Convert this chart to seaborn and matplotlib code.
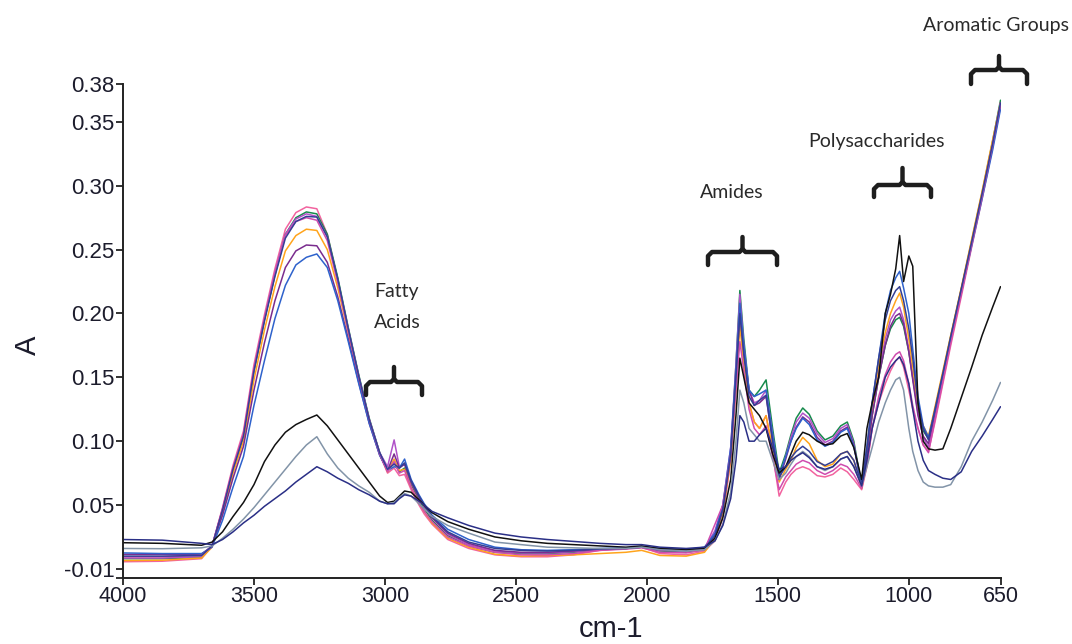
import numpy as np
import pandas as pd
import matplotlib
matplotlib.use("Agg")
import matplotlib.pyplot as plt
from matplotlib.lines import Line2D
import seaborn as sns

# ---------------- data ----------------
wavenumber = [4000, 3850, 3700, 3660, 3620, 3580, 3540, 3500, 3460, 3420,
              3380, 3340, 3300, 3260, 3220, 3180, 3140, 3100, 3060, 3020,
              2990, 2965, 2945, 2925, 2900, 2870, 2850, 2820, 2760, 2680,
              2580, 2480, 2380, 2280, 2180, 2080, 2020, 1950, 1850, 1780,
              1740, 1710, 1680, 1660, 1645, 1630, 1610, 1590, 1570, 1545,
              1520, 1495, 1470, 1450, 1430, 1405, 1380, 1350, 1320, 1290,
              1260, 1235, 1210, 1180, 1160, 1140, 1115, 1090, 1070, 1050,
              1035, 1020, 1000, 985, 965, 945, 925, 900, 870, 840,
              800, 760, 720, 680, 650]

pink = [0.0056, 0.006, 0.008, 0.018, 0.048, 0.081, 0.108, 0.160, 0.199, 0.235,
        0.266, 0.279, 0.2834, 0.282, 0.262, 0.226, 0.186, 0.150, 0.116, 0.090,
        0.075, 0.079, 0.073, 0.074, 0.062, 0.050, 0.043, 0.035, 0.023, 0.016,
        0.011, 0.0095, 0.0095, 0.011, 0.0145, 0.016, 0.017, 0.012, 0.011, 0.014,
        0.022, 0.040, 0.085, 0.150, 0.205, 0.170, 0.130, 0.115, 0.110, 0.120,
        0.090, 0.057, 0.068, 0.074, 0.078, 0.080, 0.078, 0.073, 0.072, 0.074,
        0.079, 0.076, 0.070, 0.062, 0.080, 0.110, 0.130, 0.145, 0.155, 0.163,
        0.166, 0.158, 0.140, 0.125, 0.110, 0.097, 0.092, 0.115, 0.145, 0.175,
        0.213, 0.252, 0.290, 0.330, 0.362]

green = [0.008, 0.008, 0.009, 0.018, 0.046, 0.078, 0.104, 0.155, 0.195, 0.230,
         0.262, 0.275, 0.2795, 0.278, 0.262, 0.228, 0.189, 0.152, 0.118, 0.091,
         0.077, 0.083, 0.076, 0.079, 0.066, 0.054, 0.047, 0.038, 0.026, 0.018,
         0.013, 0.012, 0.012, 0.013, 0.015, 0.016, 0.017, 0.014, 0.013, 0.015,
         0.024, 0.045, 0.090, 0.160, 0.218, 0.180, 0.140, 0.135, 0.140, 0.148,
         0.110, 0.075, 0.090, 0.105, 0.118, 0.126, 0.121, 0.108, 0.101, 0.104,
         0.112, 0.115, 0.100, 0.065, 0.090, 0.120, 0.150, 0.175, 0.188, 0.195,
         0.197, 0.190, 0.170, 0.150, 0.125, 0.108, 0.102, 0.125, 0.153, 0.182,
         0.219, 0.257, 0.295, 0.335, 0.367]

violet = [0.0085, 0.0085, 0.0095, 0.018, 0.047, 0.079, 0.105, 0.156, 0.196, 0.232,
          0.262, 0.274, 0.278, 0.276, 0.260, 0.226, 0.188, 0.151, 0.117, 0.091,
          0.080, 0.101, 0.080, 0.082, 0.068, 0.056, 0.049, 0.040, 0.027, 0.019,
          0.014, 0.0125, 0.0125, 0.0135, 0.015, 0.016, 0.017, 0.0145, 0.014, 0.016,
          0.030, 0.050, 0.095, 0.160, 0.215, 0.175, 0.140, 0.130, 0.132, 0.140,
          0.105, 0.070, 0.088, 0.103, 0.115, 0.122, 0.118, 0.106, 0.099, 0.102,
          0.110, 0.113, 0.098, 0.064, 0.090, 0.125, 0.155, 0.180, 0.195, 0.202,
          0.205, 0.195, 0.172, 0.150, 0.122, 0.103, 0.095, 0.120, 0.150, 0.180,
          0.218, 0.256, 0.294, 0.334, 0.365]

orange = [0.0065, 0.0068, 0.0085, 0.017, 0.044, 0.075, 0.100, 0.148, 0.187, 0.221,
          0.249, 0.261, 0.266, 0.265, 0.250, 0.220, 0.185, 0.149, 0.116, 0.090,
          0.076, 0.086, 0.077, 0.078, 0.064, 0.052, 0.045, 0.036, 0.024, 0.017,
          0.0115, 0.010, 0.0105, 0.011, 0.012, 0.013, 0.0145, 0.0105, 0.010, 0.013,
          0.024, 0.045, 0.085, 0.140, 0.190, 0.160, 0.130, 0.115, 0.110, 0.120,
          0.095, 0.068, 0.078, 0.085, 0.095, 0.103, 0.098, 0.085, 0.080, 0.082,
          0.090, 0.092, 0.085, 0.063, 0.085, 0.125, 0.160, 0.185, 0.200, 0.210,
          0.216, 0.205, 0.180, 0.158, 0.128, 0.112, 0.104, 0.127, 0.155, 0.183,
          0.220, 0.258, 0.296, 0.336, 0.365]

purple = [0.0114, 0.0113, 0.0115, 0.018, 0.042, 0.071, 0.096, 0.140, 0.177, 0.210,
          0.236, 0.249, 0.2536, 0.253, 0.240, 0.213, 0.180, 0.146, 0.114, 0.089,
          0.077, 0.090, 0.079, 0.082, 0.068, 0.056, 0.049, 0.040, 0.028, 0.020,
          0.0145, 0.013, 0.013, 0.014, 0.0155, 0.016, 0.017, 0.015, 0.0145, 0.016,
          0.026, 0.046, 0.088, 0.150, 0.200, 0.170, 0.140, 0.128, 0.130, 0.135,
          0.100, 0.070, 0.086, 0.100, 0.111, 0.119, 0.115, 0.103, 0.097, 0.100,
          0.108, 0.111, 0.097, 0.064, 0.090, 0.120, 0.150, 0.175, 0.190, 0.198,
          0.200, 0.192, 0.170, 0.148, 0.120, 0.104, 0.098, 0.122, 0.151, 0.180,
          0.218, 0.255, 0.293, 0.332, 0.363]

blue = [0.0125, 0.012, 0.012, 0.017, 0.038, 0.064, 0.088, 0.128, 0.163, 0.196,
        0.222, 0.238, 0.244, 0.2466, 0.236, 0.210, 0.178, 0.145, 0.114, 0.089,
        0.077, 0.080, 0.079, 0.086, 0.070, 0.058, 0.051, 0.042, 0.031, 0.023,
        0.017, 0.015, 0.0145, 0.015, 0.016, 0.0165, 0.0175, 0.016, 0.015, 0.017,
        0.028, 0.050, 0.095, 0.155, 0.208, 0.175, 0.140, 0.135, 0.137, 0.140,
        0.105, 0.072, 0.088, 0.100, 0.110, 0.118, 0.113, 0.101, 0.096, 0.099,
        0.107, 0.110, 0.096, 0.066, 0.095, 0.130, 0.165, 0.200, 0.218, 0.228,
        0.233, 0.220, 0.200, 0.172, 0.135, 0.112, 0.103, 0.124, 0.152, 0.180,
        0.216, 0.253, 0.290, 0.328, 0.360]

magenta = [0.0095, 0.0095, 0.0105, 0.018, 0.047, 0.079, 0.106, 0.157, 0.196, 0.231,
           0.261, 0.272, 0.275, 0.273, 0.257, 0.224, 0.186, 0.150, 0.117, 0.090,
           0.076, 0.084, 0.075, 0.077, 0.064, 0.052, 0.045, 0.037, 0.025, 0.018,
           0.013, 0.011, 0.011, 0.012, 0.0145, 0.0155, 0.0165, 0.013, 0.0125, 0.015,
           0.035, 0.050, 0.090, 0.140, 0.178, 0.155, 0.125, 0.110, 0.105, 0.112,
           0.088, 0.062, 0.072, 0.077, 0.082, 0.085, 0.083, 0.077, 0.074, 0.077,
           0.082, 0.080, 0.074, 0.063, 0.082, 0.110, 0.135, 0.152, 0.162, 0.168,
           0.170, 0.163, 0.145, 0.128, 0.110, 0.097, 0.091, 0.117, 0.147, 0.177,
           0.215, 0.254, 0.292, 0.332, 0.364]

indigo = [0.0100, 0.010, 0.0105, 0.018, 0.046, 0.078, 0.104, 0.155, 0.194, 0.229,
          0.259, 0.272, 0.276, 0.2755, 0.260, 0.227, 0.188, 0.151, 0.117, 0.091,
          0.078, 0.082, 0.079, 0.083, 0.069, 0.057, 0.050, 0.041, 0.029, 0.021,
          0.016, 0.0145, 0.014, 0.0145, 0.0155, 0.016, 0.017, 0.0155, 0.015, 0.0165,
          0.026, 0.047, 0.090, 0.150, 0.200, 0.168, 0.135, 0.128, 0.132, 0.136,
          0.100, 0.072, 0.080, 0.087, 0.092, 0.096, 0.092, 0.084, 0.081, 0.084,
          0.090, 0.092, 0.085, 0.066, 0.095, 0.130, 0.165, 0.195, 0.210, 0.218,
          0.221, 0.210, 0.188, 0.165, 0.130, 0.110, 0.101, 0.125, 0.153, 0.182,
          0.219, 0.256, 0.294, 0.333, 0.365]

black = [0.0205, 0.020, 0.0185, 0.021, 0.029, 0.041, 0.052, 0.066, 0.084, 0.097,
         0.107, 0.113, 0.117, 0.1205, 0.112, 0.101, 0.090, 0.079, 0.068, 0.057,
         0.052, 0.053, 0.057, 0.061, 0.060, 0.054, 0.050, 0.044, 0.037, 0.031,
         0.025, 0.022, 0.020, 0.019, 0.018, 0.017, 0.018, 0.016, 0.015, 0.016,
         0.024, 0.040, 0.070, 0.120, 0.165, 0.150, 0.130, 0.125, 0.120, 0.110,
         0.090, 0.075, 0.080, 0.090, 0.100, 0.107, 0.105, 0.100, 0.097, 0.098,
         0.104, 0.106, 0.095, 0.070, 0.110, 0.130, 0.150, 0.200, 0.215, 0.235,
         0.261, 0.225, 0.245, 0.237, 0.130, 0.100, 0.094, 0.093, 0.094, 0.110,
         0.134, 0.158, 0.183, 0.205, 0.221]

gray = [0.016, 0.0158, 0.0165, 0.018, 0.024, 0.031, 0.039, 0.048, 0.058, 0.068,
        0.078, 0.088, 0.097, 0.1035, 0.090, 0.079, 0.071, 0.065, 0.060, 0.053,
        0.051, 0.052, 0.056, 0.059, 0.057, 0.051, 0.047, 0.041, 0.034, 0.028,
        0.021, 0.019, 0.017, 0.0165, 0.016, 0.016, 0.017, 0.015, 0.014, 0.015,
        0.022, 0.035, 0.060, 0.100, 0.140, 0.130, 0.110, 0.105, 0.100, 0.100,
        0.085, 0.070, 0.075, 0.082, 0.088, 0.092, 0.088, 0.080, 0.077, 0.080,
        0.086, 0.088, 0.080, 0.065, 0.080, 0.095, 0.115, 0.130, 0.140, 0.148,
        0.150, 0.140, 0.110, 0.092, 0.077, 0.068, 0.065, 0.064, 0.064, 0.066,
        0.080, 0.100, 0.115, 0.132, 0.146]

navy = [0.023, 0.0225, 0.020, 0.019, 0.023, 0.029, 0.036, 0.042, 0.049, 0.055,
        0.061, 0.068, 0.074, 0.080, 0.076, 0.071, 0.067, 0.062, 0.058, 0.053,
        0.051, 0.051, 0.055, 0.058, 0.057, 0.053, 0.050, 0.045, 0.040, 0.034,
        0.028, 0.025, 0.023, 0.0215, 0.020, 0.019, 0.019, 0.017, 0.016, 0.017,
        0.022, 0.034, 0.055, 0.085, 0.120, 0.115, 0.100, 0.100, 0.105, 0.110,
        0.095, 0.078, 0.080, 0.085, 0.088, 0.091, 0.087, 0.080, 0.078, 0.080,
        0.086, 0.088, 0.080, 0.065, 0.085, 0.110, 0.130, 0.150, 0.158, 0.163,
        0.166, 0.160, 0.145, 0.125, 0.100, 0.085, 0.077, 0.074, 0.071, 0.070,
        0.076, 0.092, 0.104, 0.117, 0.127]

sample_names = ["pink", "green", "violet", "orange", "purple", "blue",
                "magenta", "indigo", "black", "gray", "navy"]
sample_values = [pink, green, violet, orange, purple, blue,
                 magenta, indigo, black, gray, navy]
sample_colors = ["#f2639f", "#178a4c", "#b052c8", "#ffa41c", "#7a2c8e", "#2e62cc",
                 "#cf4cae", "#333f95", "#111111", "#8294a8", "#2a2f86"]

x_ticks = [4000, 3500, 3000, 2500, 2000, 1500, 1000, 650]
y_tick_values = [-0.0069, -0.0004, 0.05, 0.10, 0.15, 0.20, 0.25, 0.30, 0.35, 0.38]
y_tick_labels = ["", "-0.01", "0.05", "0.10", "0.15", "0.20", "0.25", "0.30", "0.35", "0.38"]

# ---------------- figure ----------------
sns.set_style("ticks")
plt.rcParams["font.family"] = ["Liberation Sans", "DejaVu Sans"]

W, H = 1072, 644
fig = plt.figure(figsize=(W / 100, H / 100), dpi=100)
ax = fig.add_axes([123 / W, 1 - 577.7 / H, (1000.5 - 123) / W, (577.7 - 83.6) / H])

frames = []
for name, vals in zip(sample_names, sample_values):
    frames.append(pd.DataFrame({"wavenumber": wavenumber, "A": vals, "sample": name}))
df = pd.concat(frames, ignore_index=True)

sns.lineplot(data=df, x="wavenumber", y="A", hue="sample", hue_order=sample_names,
             palette=dict(zip(sample_names, sample_colors)), estimator=None,
             sort=False, legend=False, linewidth=1.1, ax=ax)

ax.set_xlim(4000, 650)
ax.set_ylim(-0.0069, 0.38)
ax.set_xticks(x_ticks)
ax.set_xticklabels([str(t) for t in x_ticks])
ax.set_yticks(y_tick_values)
ax.set_yticklabels(y_tick_labels)
ax.tick_params(axis="x", labelsize=15.5, pad=1)
ax.tick_params(axis="y", labelsize=16, pad=1)
ax.tick_params(axis="both", length=5, width=1.3, color="#222222",
               labelcolor="#1c1c2c", direction="out")
for side in ["top", "right"]:
    ax.spines[side].set_visible(False)
for side in ["left", "bottom"]:
    ax.spines[side].set_linewidth(1.4)
    ax.spines[side].set_color("#222222")
ax.grid(False)

ax.set_xlabel("")
ax.set_ylabel("")
fig.text(611 / W, 1 - 629 / H, "cm-1", fontsize=21, ha="center", va="center", color="#1c1c2c")
fig.text(28 / W, 1 - 345 / H, "A", fontsize=21, ha="center", va="center", rotation=90,
         color="#1c1c2c")

# ---------------- annotations ----------------
ann_font = ["Lato", "DejaVu Sans"]
def ftext(px, py, s):
    fig.text(px / W, 1 - py / H, s, fontsize=14, ha="center", va="center",
             color="#2a2a2a", family=ann_font)

ftext(996, 25, "Aromatic Groups")
ftext(876, 142, "Polysaccharides")
ftext(732, 193, "Amides")
ftext(397, 291, "Fatty")
ftext(397, 322, "Acids")

def bracket(x0, x1, ybar, ytop, ybot):
    xc = (x0 + x1) / 2
    r = 4
    left = [(x0, ybot), (x0, ybar + r), (x0 + r, ybar), (xc - 3, ybar), (xc, ybar - 3), (xc, ytop)]
    right = [(xc, ybar - 3), (xc + 3, ybar), (x1 - r, ybar), (x1, ybar + r), (x1, ybot)]
    for pts in (left, right):
        xs = [p[0] / W for p in pts]
        ys = [1 - p[1] / H for p in pts]
        fig.add_artist(Line2D(xs, ys, transform=fig.transFigure, color="#1e1e1e",
                              linewidth=3.2, solid_joinstyle="round",
                              solid_capstyle="round"))

bracket(366, 422, 382, 367, 395)
bracket(708, 777, 252, 237, 265)
bracket(874, 931, 185, 168, 197)
bracket(971, 1027, 70, 56, 84)

fig.savefig("out.png", dpi=100, facecolor="white")
